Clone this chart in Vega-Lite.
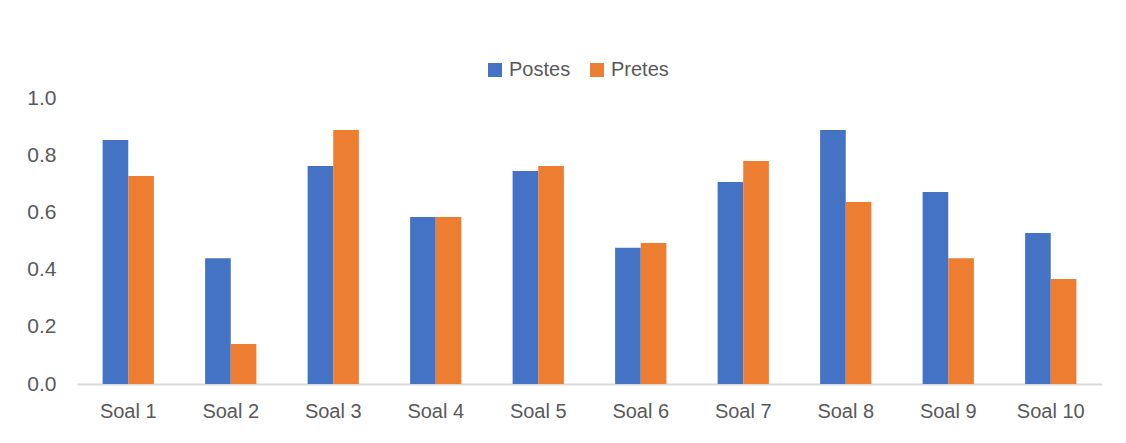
{
  "$schema": "https://vega.github.io/schema/vega-lite/v6.json",
  "width": 1025,
  "height": 286,
  "autosize": {"type": "none"},
  "padding": {"left": 77, "top": 98, "right": 24, "bottom": 59},
  "background": "white",
  "config": {
    "view": {"stroke": null},
    "font": "Liberation Sans"
  },
  "data": {
    "values": [
      {"soal": "Soal 1", "seri": "Postes", "nilai": 0.853},
      {"soal": "Soal 1", "seri": "Pretes", "nilai": 0.727},
      {"soal": "Soal 2", "seri": "Postes", "nilai": 0.44},
      {"soal": "Soal 2", "seri": "Pretes", "nilai": 0.14},
      {"soal": "Soal 3", "seri": "Postes", "nilai": 0.762},
      {"soal": "Soal 3", "seri": "Pretes", "nilai": 0.888},
      {"soal": "Soal 4", "seri": "Postes", "nilai": 0.584},
      {"soal": "Soal 4", "seri": "Pretes", "nilai": 0.584},
      {"soal": "Soal 5", "seri": "Postes", "nilai": 0.745},
      {"soal": "Soal 5", "seri": "Pretes", "nilai": 0.762},
      {"soal": "Soal 6", "seri": "Postes", "nilai": 0.476},
      {"soal": "Soal 6", "seri": "Pretes", "nilai": 0.493},
      {"soal": "Soal 7", "seri": "Postes", "nilai": 0.706},
      {"soal": "Soal 7", "seri": "Pretes", "nilai": 0.78},
      {"soal": "Soal 8", "seri": "Postes", "nilai": 0.888},
      {"soal": "Soal 8", "seri": "Pretes", "nilai": 0.636},
      {"soal": "Soal 9", "seri": "Postes", "nilai": 0.671},
      {"soal": "Soal 9", "seri": "Pretes", "nilai": 0.44},
      {"soal": "Soal 10", "seri": "Postes", "nilai": 0.528},
      {"soal": "Soal 10", "seri": "Pretes", "nilai": 0.367}
    ]
  },
  "mark": {"type": "bar"},
  "encoding": {
    "x": {
      "field": "soal",
      "type": "nominal",
      "sort": null,
      "scale": {"paddingInner": 0.5, "paddingOuter": 0.25},
      "axis": {
        "title": null,
        "labelAngle": 0,
        "labelFontSize": 20,
        "labelColor": "#595959",
        "labelPadding": 17,
        "ticks": false,
        "domainColor": "#d9d9d9",
        "domainWidth": 2
      }
    },
    "xOffset": {"field": "seri", "type": "nominal"},
    "y": {
      "field": "nilai",
      "type": "quantitative",
      "scale": {"domain": [0, 1]},
      "axis": {
        "title": null,
        "values": [0, 0.2, 0.4, 0.6, 0.8, 1.0],
        "format": ".1f",
        "grid": false,
        "domain": false,
        "ticks": false,
        "labelFontSize": 21,
        "labelColor": "#595959",
        "labelPadding": 21
      }
    },
    "color": {
      "field": "seri",
      "type": "nominal",
      "scale": {"domain": ["Postes", "Pretes"], "range": ["#4472C4", "#ED7D31"]},
      "legend": {
        "title": null,
        "orient": "none",
        "direction": "horizontal",
        "legendX": 408,
        "legendY": -38,
        "symbolType": "square",
        "symbolSize": 196,
        "symbolStrokeWidth": 0,
        "labelFontSize": 20,
        "labelColor": "#595959",
        "columnPadding": 16,
        "symbolOffset": 0
      }
    }
  }
}
